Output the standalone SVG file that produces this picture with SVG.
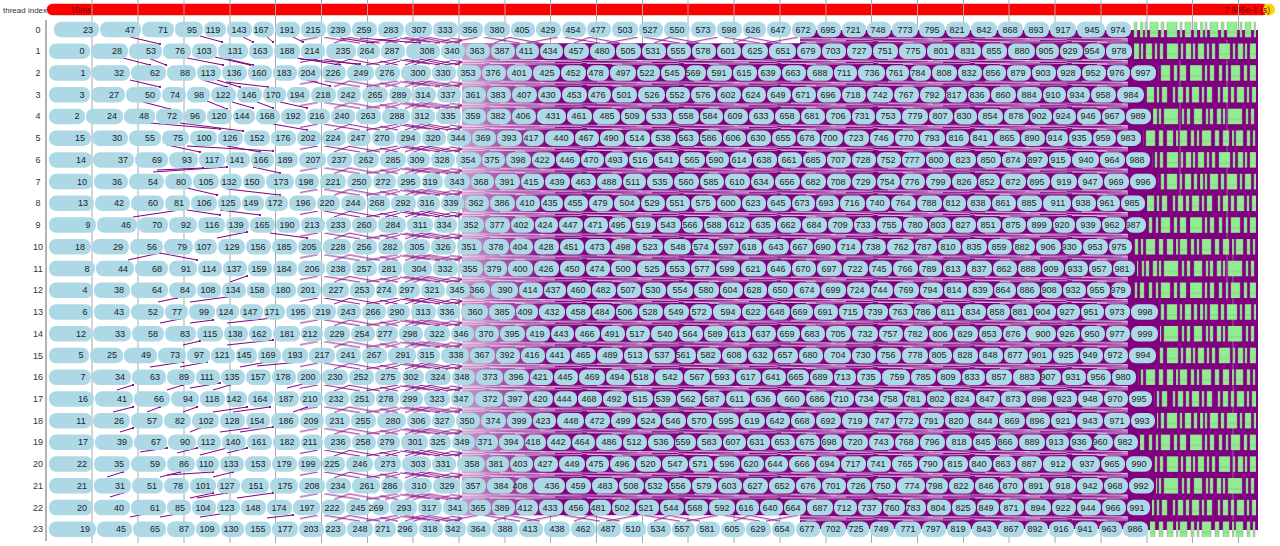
<svg xmlns="http://www.w3.org/2000/svg" width="1280" height="546" viewBox="0 0 1280 546">
<style>
.r g rect{y:-10.75px;height:15.5px;rx:7px;ry:7px;fill:#add8e6}
.r text{font:9px "Liberation Sans",Arial,sans-serif;fill:#222;text-anchor:middle}
.c path{stroke:#800080;stroke-width:1;fill:none;marker-end:url(#dot)}
.lbl{font:9px "Liberation Sans",Arial,sans-serif;fill:#333;text-anchor:middle}
.grid path{stroke:#aaa;stroke-width:1;fill:none}
.gs{fill:#90ee90;stroke:#999;stroke-width:.5}
</style>
<defs>
<marker id="dot" markerUnits="userSpaceOnUse" markerWidth="3" markerHeight="3" refX="1.5" refY="1.5"><circle cx="1.5" cy="1.5" r="1.1" fill="#800080"/></marker>
<linearGradient id="fade" x1="0" x2="1" y1="0" y2="0"><stop offset="0" stop-color="#fff" stop-opacity=".6"/><stop offset="1" stop-color="#fff" stop-opacity="0"/></linearGradient>
<pattern id="pd" patternUnits="userSpaceOnUse" x="0" y="37.25" width="97" height="21.73"><rect width="97" height="21.73" fill="#800080"/><path d="M0 1.2L97 2.6M5 4.5L70 3.4M30 5.3L97 4.4M0 3.5L40 5M55 1.8L97 0.9M15 0.6L60 1.6" stroke="#fff" stroke-width=".7" opacity=".85" fill="none"/></pattern>
<pattern id="pm" patternUnits="userSpaceOnUse" x="0" y="37.25" width="80" height="21.73"><path d="M4 0L40 6M28 0L60 6M46 6L78 0M14 6L30 0" stroke="#800080" stroke-width=".9" fill="none"/></pattern>
<pattern id="pm2" patternUnits="userSpaceOnUse" x="0" y="37.25" width="50" height="21.73"><path d="M0 1L30 5M20 0L48 6M35 6L50 2M5 6L22 0" stroke="#800080" stroke-width=".9" fill="none"/></pattern>
<pattern id="gA" patternUnits="userSpaceOnUse" width="60" height="546"><path class="gs" d="M0 0h3v546H0zM5 0h2v546H5zM10 0h8v546h-8zM21 0h3v546h-3zM27 0h10v546H27zM40 0h2v546h-2zM45 0h6v546h-6zM54 0h3v546h-3z"/></pattern>
<pattern id="gB" patternUnits="userSpaceOnUse" width="52" height="546"><path class="gs" d="M2 0h6v546H2zM11 0h2v546h-2zM16 0h3v546h-3zM23 0h11v546H23zM37 0h2v546h-2zM42 0h5v546h-5zM49 0h2v546h-2z"/></pattern>
<pattern id="gC" patternUnits="userSpaceOnUse" width="70" height="546"><path class="gs" d="M0 0h12v546H0zM15 0h2v546h-2zM20 0h4v546h-4zM29 0h3v546h-3zM36 0h2v546h-2zM41 0h9v546h-9zM54 0h3v546h-3zM60 0h6v546h-6z"/></pattern>
<pattern id="gD" patternUnits="userSpaceOnUse" width="45" height="546"><path class="gs" d="M3 0h2v546H3zM8 0h5v546H8zM16 0h3v546h-3zM22 0h7v546h-7zM32 0h2v546h-2zM37 0h5v546h-5z"/></pattern>
<pattern id="gE" patternUnits="userSpaceOnUse" width="64" height="546"><path class="gs" d="M1 0h4v546H1zM7 0h2v546H7zM12 0h14v546H12zM30 0h2v546h-2zM35 0h3v546h-3zM42 0h8v546h-8zM54 0h2v546h-2zM58 0h3v546h-3z"/></pattern>
<pattern id="gF" patternUnits="userSpaceOnUse" width="56" height="546"><path class="gs" d="M0 0h2v546H0zM4 0h7v546H4zM15 0h3v546h-3zM21 0h2v546h-2zM26 0h9v546h-9zM39 0h4v546h-4zM47 0h6v546h-6z"/></pattern>
</defs>
<rect width="1280" height="546" fill="#fff"/>
<g id="time-bar">
<rect x="47" y="4" width="1221" height="11" rx="5.5" fill="#f00" stroke="#d00" stroke-width=".5"/>
<circle cx="1269" cy="9.5" r="6" fill="#ffd400"/>
<text x="81" y="12.5" style="font:8.5px 'Liberation Sans',Arial,sans-serif;fill:#7a0000;text-anchor:middle">10ms</text>
<text x="1270" y="12.5" style="font:8.5px 'Liberation Sans',Arial,sans-serif;fill:#7a0000;text-anchor:end">2.685e-1 (s)</text>
</g>
<text x="3" y="12.5" style="font:8px 'Liberation Sans',Arial,sans-serif;fill:#333">thread index</text>
<g class="grid">
<path d="M92 0V543M138 0V543M184 0V543M230 0V543M275.5 0V543M321.5 0V543M367.5 0V543M413 0V543M459 0V543M505 0V543M550.5 0V543M596.5 0V543M642.5 0V543M688 0V543M734 0V543M780 0V543M826 0V543M871.5 0V543M917.5 0V543M963.5 0V543M1009 0V543M1055 0V543M1101 0V543M1147 0V543M1192.5 0V543M1238.5 0V543"/>
<path d="M46 20V541" style="stroke:#666"/>
</g>
<g id="connectors" class="c">
<rect x="300" y="37" width="500" height="485" fill="url(#pm)"/>
<rect x="380" y="37" width="82" height="485" fill="url(#pm2)"/>
<rect x="462" y="43.25" width="673" height="472" fill="url(#pd)"/>
<rect x="462" y="43.25" width="90" height="472" fill="url(#fade)"/>
<rect x="800" y="30" width="335" height="13.5" fill="url(#pd)"/>
<rect x="800" y="515" width="335" height="14" fill="url(#pd)"/>
<rect x="1128" y="30" width="130" height="500" fill="#800080"/>
<path d="M1227 40V300M1233 250V520M1180 60V200" style="stroke:#fff;stroke-width:.6;opacity:.6;marker-end:none"/>
<path d="M130 37L160 44"/><path d="M200 36L222 42"/><path d="M243 37L253 42"/><path d="M267 37L273 42"/><path d="M293 37L303 42"/><path d="M340 38L373 43"/><path d="M360 38L420 43"/>
<path d="M123 58L150 65"/><path d="M148 58L166 65"/><path d="M187 58L223 65"/><path d="M215 57L250 65"/><path d="M223 58L253 65"/><path d="M297 58L340 65"/><path d="M300 59L360 64"/>
<path d="M130 80L160 87"/><path d="M203 80L227 87"/><path d="M217 80L240 87"/><path d="M226 82L268 87"/><path d="M307 80L330 86"/>
<path d="M143 102L170 109"/><path d="M207 101L227 109"/><path d="M232 102L253 108"/><path d="M257 102L273 108"/><path d="M280 102L307 108"/>
<path d="M150 123L220 129"/><path d="M180 123L243 131"/><path d="M273 124L307 130"/>
<path d="M167 145L200 152"/><path d="M187 146L273 151"/><path d="M227 146L260 152"/>
<path d="M153 172L227 167"/><path d="M157 170L203 168"/><path d="M253 167L280 173"/>
<path d="M187 188L217 195"/><path d="M227 189L280 195"/>
<path d="M133 217L180 210"/><path d="M187 210L220 215"/><path d="M220 210L260 215"/>
<path d="M217 238L247 232"/><path d="M270 233L307 238"/>
<path d="M128 260L160 253"/><path d="M160 253L197 260"/>
<path d="M230 282L247 276"/>
<path d="M158 302L177 298"/><path d="M190 302L227 297"/>
<path d="M160 323L180 319"/><path d="M190 323L213 320"/><path d="M227 323L273 318"/>
<path d="M183 345L200 341"/><path d="M227 345L273 340"/>
<path d="M150 367L183 362"/><path d="M180 367L207 362"/><path d="M240 367L267 362"/><path d="M257 366L300 362"/>
<path d="M117 390L133 385"/><path d="M167 390L183 385"/><path d="M190 388L220 383"/><path d="M213 390L230 385"/><path d="M287 388L307 383"/>
<path d="M113 412L133 407"/><path d="M147 412L160 407"/><path d="M183 412L197 407"/><path d="M213 412L247 407"/><path d="M233 412L270 407"/><path d="M293 412L307 407"/>
<path d="M120 432L133 428"/><path d="M190 432L200 428"/><path d="M220 432L257 427"/><path d="M240 432L273 427"/>
<path d="M140 452L167 448"/><path d="M177 453L197 448"/><path d="M200 455L227 448"/><path d="M227 453L247 448"/>
<path d="M107 477L123 472"/><path d="M160 477L180 472"/><path d="M167 475L213 472"/><path d="M213 477L233 472"/>
<path d="M110 497L123 493"/><path d="M190 498L213 493"/><path d="M197 498L227 493"/><path d="M237 498L273 493"/>
<path d="M130 517L150 513"/><path d="M160 517L183 513"/><path d="M200 517L227 513"/><path d="M267 518L293 515"/>
</g>
<g class="r" id="thread-0" transform="translate(0,32.5)">
<g id="n23"><rect x="54" width="45"/><text x="88">23</text></g><g id="n47"><rect x="100" width="41"/><text x="130">47</text></g><g id="n71"><rect x="142" width="32"/><text x="163">71</text></g><g id="n95"><rect x="175" width="28"/><text x="192">95</text></g><g id="n119"><rect x="204" width="22"/><text x="213">119</text></g><g id="n143"><rect x="227" width="25"/><text x="239">143</text></g><g id="n167"><rect x="253" width="21"/><text x="261">167</text></g><g id="n191"><rect x="275" width="25"/><text x="287">191</text></g><g id="n215"><rect x="301" width="25"/><text x="313">215</text></g><g id="n239"><rect x="327" width="24"/><text x="338">239</text></g><g id="n259"><rect x="352" width="25"/><text x="364">259</text></g><g id="n283"><rect x="378" width="26"/><text x="391">283</text></g><g id="n307"><rect x="405" width="27"/><text x="419">307</text></g><g id="n333"><rect x="433" width="25"/><text x="445">333</text></g><g id="n356"><rect x="459" width="24"/><text x="470">356</text></g><g id="n380"><rect x="484" width="26"/><text x="497">380</text></g><g id="n405"><rect x="511" width="24"/><text x="522">405</text></g><g id="n429"><rect x="536" width="25"/><text x="548">429</text></g><g id="n454"><rect x="562" width="24"/><text x="573">454</text></g><g id="n477"><rect x="587" width="24"/><text x="598">477</text></g><g id="n503"><rect x="612" width="26"/><text x="625">503</text></g><g id="n527"><rect x="639" width="24"/><text x="650">527</text></g><g id="n550"><rect x="664" width="26"/><text x="677">550</text></g><g id="n573"><rect x="691" width="25"/><text x="703">573</text></g><g id="n598"><rect x="717" width="25"/><text x="729">598</text></g><g id="n626"><rect x="743" width="23"/><text x="753">626</text></g><g id="n647"><rect x="767" width="24"/><text x="778">647</text></g><g id="n672"><rect x="792" width="24"/><text x="803">672</text></g><g id="n695"><rect x="817" width="24"/><text x="828">695</text></g><g id="n721"><rect x="842" width="24"/><text x="853">721</text></g><g id="n748"><rect x="867" width="24"/><text x="878">748</text></g><g id="n773"><rect x="892" width="26"/><text x="905">773</text></g><g id="n795"><rect x="919" width="26"/><text x="932">795</text></g><g id="n821"><rect x="946" width="24"/><text x="957">821</text></g><g id="n842"><rect x="971" width="26"/><text x="984">842</text></g><g id="n868"><rect x="998" width="25"/><text x="1010">868</text></g><g id="n893"><rect x="1024" width="25"/><text x="1036">893</text></g><g id="n917"><rect x="1050" width="26"/><text x="1063">917</text></g><g id="n945"><rect x="1077" width="28"/><text x="1092">945</text></g><g id="n974"><rect x="1106" width="25"/><text x="1118">974</text></g>
<rect x="1133" y="-10.75" width="123" height="15.5" fill="url(#gA)"/>
</g>
<g class="r" id="thread-1" transform="translate(0,54.23)">
<g id="n0"><rect x="49" width="41"/><text x="82">0</text></g><g id="n28"><rect x="91" width="37"/><text x="117">28</text></g><g id="n53"><rect x="129" width="33"/><text x="151">53</text></g><g id="n76"><rect x="163" width="28"/><text x="180">76</text></g><g id="n103"><rect x="192" width="25"/><text x="204">103</text></g><g id="n131"><rect x="218" width="30"/><text x="235">131</text></g><g id="n163"><rect x="249" width="24"/><text x="260">163</text></g><g id="n188"><rect x="274" width="26"/><text x="287">188</text></g><g id="n214"><rect x="301" width="24"/><text x="312">214</text></g><g id="n235"><rect x="326" width="30"/><text x="343">235</text></g><g id="n264"><rect x="357" width="23"/><text x="367">264</text></g><g id="n287"><rect x="381" width="24"/><text x="392">287</text></g><g id="n308"><rect x="406" width="34"/><text x="427">308</text></g><g id="n340"><rect x="441" width="24"/><text x="452">340</text></g><g id="n363"><rect x="466" width="24"/><text x="477">363</text></g><g id="n387"><rect x="491" width="24"/><text x="502">387</text></g><g id="n411"><rect x="516" width="23"/><text x="526">411</text></g><g id="n434"><rect x="540" width="23"/><text x="550">434</text></g><g id="n457"><rect x="564" width="25"/><text x="576">457</text></g><g id="n480"><rect x="590" width="25"/><text x="602">480</text></g><g id="n505"><rect x="616" width="25"/><text x="628">505</text></g><g id="n531"><rect x="642" width="24"/><text x="653">531</text></g><g id="n555"><rect x="667" width="24"/><text x="678">555</text></g><g id="n578"><rect x="692" width="24"/><text x="703">578</text></g><g id="n601"><rect x="717" width="24"/><text x="728">601</text></g><g id="n625"><rect x="742" width="26"/><text x="755">625</text></g><g id="n651"><rect x="769" width="27"/><text x="783">651</text></g><g id="n679"><rect x="797" width="24"/><text x="808">679</text></g><g id="n703"><rect x="822" width="24"/><text x="833">703</text></g><g id="n727"><rect x="847" width="25"/><text x="859">727</text></g><g id="n751"><rect x="873" width="25"/><text x="885">751</text></g><g id="n775"><rect x="899" width="27"/><text x="913">775</text></g><g id="n801"><rect x="927" width="27"/><text x="941">801</text></g><g id="n831"><rect x="955" width="26"/><text x="968">831</text></g><g id="n855"><rect x="982" width="25"/><text x="994">855</text></g><g id="n880"><rect x="1008" width="27"/><text x="1022">880</text></g><g id="n905"><rect x="1036" width="23"/><text x="1046">905</text></g><g id="n929"><rect x="1060" width="23"/><text x="1070">929</text></g><g id="n954"><rect x="1084" width="21"/><text x="1092">954</text></g><g id="n978"><rect x="1106" width="26"/><text x="1119">978</text></g>
<rect x="1134" y="-10.75" width="122" height="15.5" fill="url(#gB)"/>
</g>
<g class="r" id="thread-2" transform="translate(0,75.96)">
<g id="n1"><rect x="49" width="42"/><text x="83">1</text></g><g id="n32"><rect x="92" width="38"/><text x="119">32</text></g><g id="n62"><rect x="131" width="35"/><text x="155">62</text></g><g id="n88"><rect x="167" width="29"/><text x="185">88</text></g><g id="n113"><rect x="197" width="24"/><text x="208">113</text></g><g id="n136"><rect x="222" width="25"/><text x="234">136</text></g><g id="n160"><rect x="248" width="24"/><text x="259">160</text></g><g id="n183"><rect x="273" width="24"/><text x="284">183</text></g><g id="n204"><rect x="298" width="23"/><text x="308">204</text></g><g id="n226"><rect x="322" width="24"/><text x="333">226</text></g><g id="n249"><rect x="347" width="27"/><text x="361">249</text></g><g id="n276"><rect x="375" width="25"/><text x="387">276</text></g><g id="n300"><rect x="401" width="30"/><text x="418">300</text></g><g id="n330"><rect x="432" width="24"/><text x="443">330</text></g><g id="n353"><rect x="457" width="24"/><text x="468">353</text></g><g id="n376"><rect x="482" width="24"/><text x="493">376</text></g><g id="n401"><rect x="507" width="25"/><text x="519">401</text></g><g id="n425"><rect x="533" width="27"/><text x="547">425</text></g><g id="n452"><rect x="561" width="25"/><text x="573">452</text></g><g id="n478"><rect x="587" width="22"/><text x="596">478</text></g><g id="n497"><rect x="610" width="26"/><text x="623">497</text></g><g id="n522"><rect x="637" width="23"/><text x="647">522</text></g><g id="n545"><rect x="661" width="24"/><text x="672">545</text></g><g id="n569"><rect x="686" width="20"/><text x="693">569</text></g><g id="n591"><rect x="707" width="25"/><text x="719">591</text></g><g id="n615"><rect x="733" width="24"/><text x="744">615</text></g><g id="n639"><rect x="758" width="23"/><text x="768">639</text></g><g id="n663"><rect x="782" width="24"/><text x="793">663</text></g><g id="n688"><rect x="807" width="26"/><text x="820">688</text></g><g id="n711"><rect x="834" width="23"/><text x="844">711</text></g><g id="n736"><rect x="858" width="27"/><text x="872">736</text></g><g id="n761"><rect x="886" width="23"/><text x="896">761</text></g><g id="n784"><rect x="910" width="21"/><text x="918">784</text></g><g id="n808"><rect x="932" width="25"/><text x="944">808</text></g><g id="n832"><rect x="958" width="24"/><text x="969">832</text></g><g id="n856"><rect x="983" width="23"/><text x="993">856</text></g><g id="n879"><rect x="1007" width="24"/><text x="1018">879</text></g><g id="n903"><rect x="1032" width="24"/><text x="1043">903</text></g><g id="n928"><rect x="1057" width="24"/><text x="1068">928</text></g><g id="n952"><rect x="1082" width="24"/><text x="1093">952</text></g><g id="n976"><rect x="1107" width="23"/><text x="1117">976</text></g><g id="n997"><rect x="1131" width="25"/><text x="1143">997</text></g>
<rect x="1158" y="-10.75" width="98" height="15.5" fill="url(#gC)"/>
</g>
<g class="r" id="thread-3" transform="translate(0,97.69)">
<g id="n3"><rect x="49" width="41"/><text x="82">3</text></g><g id="n27"><rect x="91" width="34"/><text x="114">27</text></g><g id="n50"><rect x="126" width="35"/><text x="150">50</text></g><g id="n74"><rect x="162" width="24"/><text x="175">74</text></g><g id="n98"><rect x="187" width="23"/><text x="199">98</text></g><g id="n122"><rect x="211" width="25"/><text x="223">122</text></g><g id="n146"><rect x="237" width="25"/><text x="249">146</text></g><g id="n170"><rect x="263" width="23"/><text x="273">170</text></g><g id="n194"><rect x="287" width="23"/><text x="297">194</text></g><g id="n218"><rect x="311" width="25"/><text x="323">218</text></g><g id="n242"><rect x="337" width="24"/><text x="348">242</text></g><g id="n265"><rect x="362" width="26"/><text x="375">265</text></g><g id="n289"><rect x="389" width="23"/><text x="399">289</text></g><g id="n314"><rect x="413" width="23"/><text x="423">314</text></g><g id="n337"><rect x="437" width="24"/><text x="448">337</text></g><g id="n361"><rect x="462" width="24"/><text x="473">361</text></g><g id="n383"><rect x="487" width="24"/><text x="498">383</text></g><g id="n407"><rect x="512" width="25"/><text x="524">407</text></g><g id="n430"><rect x="538" width="23"/><text x="548">430</text></g><g id="n453"><rect x="562" width="25"/><text x="574">453</text></g><g id="n476"><rect x="588" width="23"/><text x="598">476</text></g><g id="n501"><rect x="612" width="25"/><text x="624">501</text></g><g id="n526"><rect x="638" width="27"/><text x="652">526</text></g><g id="n552"><rect x="666" width="24"/><text x="677">552</text></g><g id="n576"><rect x="691" width="25"/><text x="703">576</text></g><g id="n602"><rect x="717" width="24"/><text x="728">602</text></g><g id="n624"><rect x="742" width="24"/><text x="753">624</text></g><g id="n649"><rect x="767" width="24"/><text x="778">649</text></g><g id="n671"><rect x="792" width="24"/><text x="803">671</text></g><g id="n696"><rect x="817" width="24"/><text x="828">696</text></g><g id="n718"><rect x="842" width="24"/><text x="853">718</text></g><g id="n742"><rect x="867" width="26"/><text x="880">742</text></g><g id="n767"><rect x="894" width="25"/><text x="906">767</text></g><g id="n792"><rect x="920" width="25"/><text x="932">792</text></g><g id="n817"><rect x="946" width="21"/><text x="954">817</text></g><g id="n836"><rect x="968" width="22"/><text x="977">836</text></g><g id="n860"><rect x="991" width="25"/><text x="1003">860</text></g><g id="n884"><rect x="1017" width="25"/><text x="1029">884</text></g><g id="n910"><rect x="1043" width="23"/><text x="1053">910</text></g><g id="n934"><rect x="1067" width="23"/><text x="1077">934</text></g><g id="n958"><rect x="1091" width="25"/><text x="1103">958</text></g><g id="n984"><rect x="1117" width="27"/><text x="1131">984</text></g>
<rect x="1146" y="-10.75" width="110" height="15.5" fill="url(#gD)"/>
</g>
<g class="r" id="thread-4" transform="translate(0,119.42)">
<g id="n2"><rect x="49" width="36"/><text x="77">2</text></g><g id="n24"><rect x="86" width="37"/><text x="112">24</text></g><g id="n48"><rect x="124" width="31"/><text x="144">48</text></g><g id="n72"><rect x="156" width="27"/><text x="172">72</text></g><g id="n96"><rect x="184" width="22"/><text x="195">96</text></g><g id="n120"><rect x="207" width="25"/><text x="219">120</text></g><g id="n144"><rect x="233" width="22"/><text x="242">144</text></g><g id="n168"><rect x="256" width="24"/><text x="267">168</text></g><g id="n192"><rect x="281" width="25"/><text x="293">192</text></g><g id="n216"><rect x="307" width="23"/><text x="317">216</text></g><g id="n240"><rect x="331" width="24"/><text x="342">240</text></g><g id="n263"><rect x="356" width="25"/><text x="368">263</text></g><g id="n288"><rect x="382" width="28"/><text x="397">288</text></g><g id="n312"><rect x="411" width="24"/><text x="422">312</text></g><g id="n335"><rect x="436" width="25"/><text x="448">335</text></g><g id="n359"><rect x="462" width="24"/><text x="473">359</text></g><g id="n382"><rect x="487" width="24"/><text x="498">382</text></g><g id="n406"><rect x="512" width="24"/><text x="523">406</text></g><g id="n431"><rect x="537" width="29"/><text x="553">431</text></g><g id="n461"><rect x="567" width="25"/><text x="579">461</text></g><g id="n485"><rect x="593" width="27"/><text x="607">485</text></g><g id="n509"><rect x="621" width="24"/><text x="632">509</text></g><g id="n533"><rect x="646" width="26"/><text x="659">533</text></g><g id="n558"><rect x="673" width="26"/><text x="686">558</text></g><g id="n584"><rect x="700" width="23"/><text x="710">584</text></g><g id="n609"><rect x="724" width="24"/><text x="735">609</text></g><g id="n633"><rect x="749" width="25"/><text x="761">633</text></g><g id="n658"><rect x="775" width="25"/><text x="787">658</text></g><g id="n681"><rect x="801" width="24"/><text x="812">681</text></g><g id="n706"><rect x="826" width="25"/><text x="838">706</text></g><g id="n731"><rect x="852" width="23"/><text x="862">731</text></g><g id="n753"><rect x="876" width="25"/><text x="888">753</text></g><g id="n779"><rect x="902" width="26"/><text x="915">779</text></g><g id="n807"><rect x="929" width="24"/><text x="940">807</text></g><g id="n830"><rect x="954" width="23"/><text x="964">830</text></g><g id="n854"><rect x="978" width="25"/><text x="990">854</text></g><g id="n878"><rect x="1004" width="25"/><text x="1016">878</text></g><g id="n902"><rect x="1030" width="22"/><text x="1039">902</text></g><g id="n924"><rect x="1053" width="23"/><text x="1063">924</text></g><g id="n946"><rect x="1077" width="24"/><text x="1088">946</text></g><g id="n967"><rect x="1102" width="23"/><text x="1112">967</text></g><g id="n989"><rect x="1126" width="25"/><text x="1138">989</text></g>
<rect x="1153" y="-10.75" width="103" height="15.5" fill="url(#gE)"/>
</g>
<g class="r" id="thread-5" transform="translate(0,141.15)">
<g id="n15"><rect x="49" width="42"/><text x="80">15</text></g><g id="n30"><rect x="92" width="36"/><text x="117">30</text></g><g id="n55"><rect x="129" width="32"/><text x="150">55</text></g><g id="n75"><rect x="162" width="27"/><text x="178">75</text></g><g id="n100"><rect x="190" width="27"/><text x="204">100</text></g><g id="n126"><rect x="218" width="25"/><text x="230">126</text></g><g id="n152"><rect x="244" width="26"/><text x="257">152</text></g><g id="n176"><rect x="271" width="25"/><text x="283">176</text></g><g id="n202"><rect x="297" width="24"/><text x="308">202</text></g><g id="n224"><rect x="322" width="24"/><text x="333">224</text></g><g id="n247"><rect x="347" width="24"/><text x="358">247</text></g><g id="n270"><rect x="372" width="23"/><text x="382">270</text></g><g id="n294"><rect x="396" width="25"/><text x="408">294</text></g><g id="n320"><rect x="422" width="24"/><text x="433">320</text></g><g id="n344"><rect x="447" width="24"/><text x="458">344</text></g><g id="n369"><rect x="472" width="24"/><text x="483">369</text></g><g id="n393"><rect x="497" width="25"/><text x="509">393</text></g><g id="n417"><rect x="523" width="21"/><text x="531">417</text></g><g id="n440"><rect x="545" width="29"/><text x="561">440</text></g><g id="n467"><rect x="575" width="24"/><text x="586">467</text></g><g id="n490"><rect x="600" width="24"/><text x="611">490</text></g><g id="n514"><rect x="625" width="25"/><text x="637">514</text></g><g id="n538"><rect x="651" width="25"/><text x="663">538</text></g><g id="n563"><rect x="677" width="22"/><text x="686">563</text></g><g id="n586"><rect x="700" width="22"/><text x="709">586</text></g><g id="n606"><rect x="723" width="23"/><text x="733">606</text></g><g id="n630"><rect x="747" width="24"/><text x="758">630</text></g><g id="n655"><rect x="772" width="24"/><text x="783">655</text></g><g id="n678"><rect x="797" width="23"/><text x="807">678</text></g><g id="n700"><rect x="821" width="22"/><text x="830">700</text></g><g id="n723"><rect x="844" width="25"/><text x="856">723</text></g><g id="n746"><rect x="870" width="24"/><text x="881">746</text></g><g id="n770"><rect x="895" width="24"/><text x="906">770</text></g><g id="n793"><rect x="920" width="25"/><text x="932">793</text></g><g id="n816"><rect x="946" width="23"/><text x="956">816</text></g><g id="n841"><rect x="970" width="23"/><text x="980">841</text></g><g id="n865"><rect x="994" width="26"/><text x="1007">865</text></g><g id="n890"><rect x="1021" width="24"/><text x="1032">890</text></g><g id="n914"><rect x="1046" width="22"/><text x="1055">914</text></g><g id="n935"><rect x="1069" width="23"/><text x="1079">935</text></g><g id="n959"><rect x="1093" width="23"/><text x="1103">959</text></g><g id="n983"><rect x="1117" width="24"/><text x="1128">983</text></g>
<rect x="1143" y="-10.75" width="113" height="15.5" fill="url(#gF)"/>
</g>
<g class="r" id="thread-6" transform="translate(0,162.88)">
<g id="n14"><rect x="49" width="43"/><text x="81">14</text></g><g id="n37"><rect x="93" width="41"/><text x="123">37</text></g><g id="n69"><rect x="135" width="33"/><text x="157">69</text></g><g id="n93"><rect x="169" width="29"/><text x="187">93</text></g><g id="n117"><rect x="199" width="26"/><text x="212">117</text></g><g id="n141"><rect x="226" width="24"/><text x="237">141</text></g><g id="n166"><rect x="251" width="23"/><text x="261">166</text></g><g id="n189"><rect x="275" width="23"/><text x="285">189</text></g><g id="n207"><rect x="299" width="27"/><text x="313">207</text></g><g id="n237"><rect x="327" width="25"/><text x="339">237</text></g><g id="n262"><rect x="353" width="26"/><text x="366">262</text></g><g id="n285"><rect x="380" width="26"/><text x="393">285</text></g><g id="n309"><rect x="407" width="23"/><text x="417">309</text></g><g id="n328"><rect x="431" width="24"/><text x="442">328</text></g><g id="n354"><rect x="456" width="25"/><text x="468">354</text></g><g id="n375"><rect x="482" width="23"/><text x="492">375</text></g><g id="n398"><rect x="506" width="25"/><text x="518">398</text></g><g id="n422"><rect x="532" width="23"/><text x="542">422</text></g><g id="n446"><rect x="556" width="24"/><text x="567">446</text></g><g id="n470"><rect x="581" width="23"/><text x="591">470</text></g><g id="n493"><rect x="605" width="23"/><text x="615">493</text></g><g id="n516"><rect x="629" width="24"/><text x="640">516</text></g><g id="n541"><rect x="654" width="25"/><text x="666">541</text></g><g id="n565"><rect x="680" width="25"/><text x="692">565</text></g><g id="n590"><rect x="706" width="23"/><text x="716">590</text></g><g id="n614"><rect x="730" width="22"/><text x="739">614</text></g><g id="n638"><rect x="753" width="24"/><text x="764">638</text></g><g id="n661"><rect x="778" width="24"/><text x="789">661</text></g><g id="n685"><rect x="803" width="23"/><text x="813">685</text></g><g id="n707"><rect x="827" width="24"/><text x="838">707</text></g><g id="n728"><rect x="852" width="24"/><text x="863">728</text></g><g id="n752"><rect x="877" width="24"/><text x="888">752</text></g><g id="n777"><rect x="902" width="23"/><text x="912">777</text></g><g id="n800"><rect x="926" width="23"/><text x="936">800</text></g><g id="n823"><rect x="950" width="26"/><text x="963">823</text></g><g id="n850"><rect x="977" width="24"/><text x="988">850</text></g><g id="n874"><rect x="1002" width="24"/><text x="1013">874</text></g><g id="n897"><rect x="1027" width="21"/><text x="1035">897</text></g><g id="n915"><rect x="1049" width="22"/><text x="1058">915</text></g><g id="n940"><rect x="1072" width="27"/><text x="1086">940</text></g><g id="n964"><rect x="1100" width="25"/><text x="1112">964</text></g><g id="n988"><rect x="1126" width="24"/><text x="1137">988</text></g>
<rect x="1152" y="-10.75" width="104" height="15.5" fill="url(#gB)"/>
</g>
<g class="r" id="thread-7" transform="translate(0,184.61)">
<g id="n10"><rect x="49" width="44"/><text x="82">10</text></g><g id="n36"><rect x="94" width="34"/><text x="117">36</text></g><g id="n54"><rect x="129" width="35"/><text x="153">54</text></g><g id="n80"><rect x="165" width="27"/><text x="181">80</text></g><g id="n105"><rect x="193" width="26"/><text x="206">105</text></g><g id="n132"><rect x="220" width="22"/><text x="229">132</text></g><g id="n150"><rect x="243" width="22"/><text x="252">150</text></g><g id="n173"><rect x="266" width="28"/><text x="281">173</text></g><g id="n198"><rect x="295" width="24"/><text x="306">198</text></g><g id="n221"><rect x="320" width="26"/><text x="333">221</text></g><g id="n250"><rect x="347" width="25"/><text x="359">250</text></g><g id="n272"><rect x="373" width="23"/><text x="383">272</text></g><g id="n295"><rect x="397" width="24"/><text x="408">295</text></g><g id="n319"><rect x="422" width="21"/><text x="430">319</text></g><g id="n343"><rect x="444" width="26"/><text x="457">343</text></g><g id="n368"><rect x="471" width="23"/><text x="481">368</text></g><g id="n391"><rect x="495" width="25"/><text x="507">391</text></g><g id="n415"><rect x="521" width="23"/><text x="531">415</text></g><g id="n439"><rect x="545" width="25"/><text x="557">439</text></g><g id="n463"><rect x="571" width="25"/><text x="583">463</text></g><g id="n488"><rect x="597" width="25"/><text x="609">488</text></g><g id="n511"><rect x="623" width="23"/><text x="633">511</text></g><g id="n535"><rect x="647" width="26"/><text x="660">535</text></g><g id="n560"><rect x="674" width="25"/><text x="686">560</text></g><g id="n585"><rect x="700" width="24"/><text x="711">585</text></g><g id="n610"><rect x="725" width="25"/><text x="737">610</text></g><g id="n634"><rect x="751" width="23"/><text x="761">634</text></g><g id="n656"><rect x="775" width="25"/><text x="787">656</text></g><g id="n682"><rect x="801" width="25"/><text x="813">682</text></g><g id="n708"><rect x="827" width="24"/><text x="838">708</text></g><g id="n729"><rect x="852" width="24"/><text x="863">729</text></g><g id="n754"><rect x="877" width="23"/><text x="887">754</text></g><g id="n776"><rect x="901" width="24"/><text x="912">776</text></g><g id="n799"><rect x="926" width="25"/><text x="938">799</text></g><g id="n826"><rect x="952" width="25"/><text x="964">826</text></g><g id="n852"><rect x="978" width="22"/><text x="987">852</text></g><g id="n872"><rect x="1001" width="25"/><text x="1013">872</text></g><g id="n895"><rect x="1027" width="23"/><text x="1037">895</text></g><g id="n919"><rect x="1051" width="26"/><text x="1064">919</text></g><g id="n947"><rect x="1078" width="25"/><text x="1090">947</text></g><g id="n969"><rect x="1104" width="25"/><text x="1116">969</text></g><g id="n996"><rect x="1130" width="26"/><text x="1143">996</text></g>
<rect x="1158" y="-10.75" width="98" height="15.5" fill="url(#gA)"/>
</g>
<g class="r" id="thread-8" transform="translate(0,206.34)">
<g id="n13"><rect x="49" width="45"/><text x="83">13</text></g><g id="n42"><rect x="95" width="35"/><text x="119">42</text></g><g id="n60"><rect x="131" width="33"/><text x="153">60</text></g><g id="n81"><rect x="165" width="25"/><text x="179">81</text></g><g id="n106"><rect x="191" width="26"/><text x="204">106</text></g><g id="n125"><rect x="218" width="23"/><text x="228">125</text></g><g id="n149"><rect x="242" width="22"/><text x="251">149</text></g><g id="n172"><rect x="265" width="23"/><text x="275">172</text></g><g id="n196"><rect x="289" width="27"/><text x="303">196</text></g><g id="n220"><rect x="317" width="23"/><text x="327">220</text></g><g id="n244"><rect x="341" width="25"/><text x="353">244</text></g><g id="n268"><rect x="367" width="23"/><text x="377">268</text></g><g id="n292"><rect x="391" width="25"/><text x="403">292</text></g><g id="n316"><rect x="417" width="23"/><text x="427">316</text></g><g id="n339"><rect x="441" width="23"/><text x="451">339</text></g><g id="n362"><rect x="465" width="24"/><text x="476">362</text></g><g id="n386"><rect x="490" width="25"/><text x="502">386</text></g><g id="n410"><rect x="516" width="24"/><text x="527">410</text></g><g id="n435"><rect x="541" width="22"/><text x="550">435</text></g><g id="n455"><rect x="564" width="24"/><text x="575">455</text></g><g id="n479"><rect x="589" width="24"/><text x="600">479</text></g><g id="n504"><rect x="614" width="26"/><text x="627">504</text></g><g id="n529"><rect x="641" width="24"/><text x="652">529</text></g><g id="n551"><rect x="666" width="24"/><text x="677">551</text></g><g id="n575"><rect x="691" width="25"/><text x="703">575</text></g><g id="n600"><rect x="717" width="24"/><text x="728">600</text></g><g id="n623"><rect x="742" width="24"/><text x="753">623</text></g><g id="n645"><rect x="767" width="24"/><text x="778">645</text></g><g id="n673"><rect x="792" width="23"/><text x="802">673</text></g><g id="n693"><rect x="816" width="23"/><text x="826">693</text></g><g id="n716"><rect x="840" width="25"/><text x="852">716</text></g><g id="n740"><rect x="866" width="24"/><text x="877">740</text></g><g id="n764"><rect x="891" width="25"/><text x="903">764</text></g><g id="n788"><rect x="917" width="25"/><text x="929">788</text></g><g id="n812"><rect x="943" width="23"/><text x="953">812</text></g><g id="n838"><rect x="967" width="24"/><text x="978">838</text></g><g id="n861"><rect x="992" width="24"/><text x="1003">861</text></g><g id="n885"><rect x="1017" width="25"/><text x="1029">885</text></g><g id="n911"><rect x="1043" width="28"/><text x="1058">911</text></g><g id="n938"><rect x="1072" width="24"/><text x="1083">938</text></g><g id="n961"><rect x="1097" width="23"/><text x="1107">961</text></g><g id="n985"><rect x="1121" width="24"/><text x="1132">985</text></g>
<rect x="1147" y="-10.75" width="109" height="15.5" fill="url(#gD)"/>
</g>
<g class="r" id="thread-9" transform="translate(0,228.07)">
<g id="n9"><rect x="49" width="47"/><text x="88">9</text></g><g id="n46"><rect x="97" width="40"/><text x="126">46</text></g><g id="n70"><rect x="138" width="30"/><text x="157">70</text></g><g id="n92"><rect x="169" width="28"/><text x="186">92</text></g><g id="n116"><rect x="198" width="27"/><text x="212">116</text></g><g id="n139"><rect x="226" width="23"/><text x="236">139</text></g><g id="n165"><rect x="250" width="25"/><text x="262">165</text></g><g id="n190"><rect x="276" width="24"/><text x="287">190</text></g><g id="n213"><rect x="301" width="24"/><text x="312">213</text></g><g id="n233"><rect x="326" width="25"/><text x="338">233</text></g><g id="n260"><rect x="352" width="25"/><text x="364">260</text></g><g id="n284"><rect x="378" width="28"/><text x="393">284</text></g><g id="n311"><rect x="407" width="26"/><text x="420">311</text></g><g id="n334"><rect x="434" width="23"/><text x="444">334</text></g><g id="n352"><rect x="458" width="26"/><text x="471">352</text></g><g id="n377"><rect x="485" width="25"/><text x="497">377</text></g><g id="n402"><rect x="511" width="23"/><text x="521">402</text></g><g id="n424"><rect x="535" width="23"/><text x="545">424</text></g><g id="n447"><rect x="559" width="24"/><text x="570">447</text></g><g id="n471"><rect x="584" width="24"/><text x="595">471</text></g><g id="n495"><rect x="609" width="22"/><text x="618">495</text></g><g id="n519"><rect x="632" width="24"/><text x="643">519</text></g><g id="n543"><rect x="657" width="24"/><text x="668">543</text></g><g id="n566"><rect x="682" width="21"/><text x="690">566</text></g><g id="n588"><rect x="704" width="23"/><text x="714">588</text></g><g id="n612"><rect x="728" width="22"/><text x="737">612</text></g><g id="n635"><rect x="751" width="25"/><text x="763">635</text></g><g id="n662"><rect x="777" width="24"/><text x="788">662</text></g><g id="n684"><rect x="802" width="25"/><text x="814">684</text></g><g id="n709"><rect x="828" width="25"/><text x="840">709</text></g><g id="n733"><rect x="854" width="22"/><text x="863">733</text></g><g id="n755"><rect x="877" width="25"/><text x="889">755</text></g><g id="n780"><rect x="903" width="25"/><text x="915">780</text></g><g id="n803"><rect x="929" width="22"/><text x="938">803</text></g><g id="n827"><rect x="952" width="24"/><text x="963">827</text></g><g id="n851"><rect x="977" width="24"/><text x="988">851</text></g><g id="n875"><rect x="1002" width="24"/><text x="1013">875</text></g><g id="n899"><rect x="1027" width="25"/><text x="1039">899</text></g><g id="n920"><rect x="1053" width="22"/><text x="1062">920</text></g><g id="n939"><rect x="1076" width="25"/><text x="1088">939</text></g><g id="n962"><rect x="1102" width="23"/><text x="1112">962</text></g><g id="n987"><rect x="1126" width="20"/><text x="1133">987</text></g>
<rect x="1148" y="-10.75" width="108" height="15.5" fill="url(#gC)"/>
</g>
<g class="r" id="thread-10" transform="translate(0,249.8)">
<g id="n18"><rect x="49" width="42"/><text x="80">18</text></g><g id="n29"><rect x="92" width="37"/><text x="118">29</text></g><g id="n56"><rect x="130" width="33"/><text x="152">56</text></g><g id="n79"><rect x="164" width="29"/><text x="182">79</text></g><g id="n107"><rect x="194" width="23"/><text x="204">107</text></g><g id="n129"><rect x="218" width="27"/><text x="232">129</text></g><g id="n156"><rect x="246" width="25"/><text x="258">156</text></g><g id="n185"><rect x="272" width="25"/><text x="284">185</text></g><g id="n205"><rect x="298" width="24"/><text x="309">205</text></g><g id="n228"><rect x="323" width="28"/><text x="338">228</text></g><g id="n256"><rect x="352" width="25"/><text x="364">256</text></g><g id="n282"><rect x="378" width="25"/><text x="390">282</text></g><g id="n305"><rect x="404" width="26"/><text x="417">305</text></g><g id="n326"><rect x="431" width="25"/><text x="443">326</text></g><g id="n351"><rect x="457" width="25"/><text x="469">351</text></g><g id="n378"><rect x="483" width="26"/><text x="496">378</text></g><g id="n404"><rect x="510" width="23"/><text x="520">404</text></g><g id="n428"><rect x="534" width="25"/><text x="546">428</text></g><g id="n451"><rect x="560" width="24"/><text x="571">451</text></g><g id="n473"><rect x="585" width="25"/><text x="597">473</text></g><g id="n498"><rect x="611" width="25"/><text x="623">498</text></g><g id="n523"><rect x="637" width="26"/><text x="650">523</text></g><g id="n548"><rect x="664" width="27"/><text x="678">548</text></g><g id="n574"><rect x="692" width="22"/><text x="701">574</text></g><g id="n597"><rect x="715" width="24"/><text x="726">597</text></g><g id="n618"><rect x="740" width="22"/><text x="749">618</text></g><g id="n643"><rect x="763" width="26"/><text x="776">643</text></g><g id="n667"><rect x="790" width="23"/><text x="800">667</text></g><g id="n690"><rect x="814" width="22"/><text x="823">690</text></g><g id="n714"><rect x="837" width="24"/><text x="848">714</text></g><g id="n738"><rect x="862" width="24"/><text x="873">738</text></g><g id="n762"><rect x="887" width="27"/><text x="901">762</text></g><g id="n787"><rect x="915" width="22"/><text x="924">787</text></g><g id="n810"><rect x="938" width="23"/><text x="948">810</text></g><g id="n835"><rect x="962" width="25"/><text x="974">835</text></g><g id="n859"><rect x="988" width="24"/><text x="999">859</text></g><g id="n882"><rect x="1013" width="22"/><text x="1022">882</text></g><g id="n906"><rect x="1036" width="25"/><text x="1048">906</text></g><g id="n930"><rect x="1062" width="20"/><text x="1069">930</text></g><g id="n953"><rect x="1083" width="25"/><text x="1095">953</text></g><g id="n975"><rect x="1109" width="23"/><text x="1119">975</text></g>
<rect x="1134" y="-10.75" width="122" height="15.5" fill="url(#gF)"/>
</g>
<g class="r" id="thread-11" transform="translate(0,271.53)">
<g id="n8"><rect x="49" width="46"/><text x="87">8</text></g><g id="n44"><rect x="96" width="38"/><text x="123">44</text></g><g id="n68"><rect x="135" width="33"/><text x="157">68</text></g><g id="n91"><rect x="169" width="28"/><text x="186">91</text></g><g id="n114"><rect x="198" width="24"/><text x="209">114</text></g><g id="n137"><rect x="223" width="24"/><text x="234">137</text></g><g id="n159"><rect x="248" width="24"/><text x="259">159</text></g><g id="n184"><rect x="273" width="24"/><text x="284">184</text></g><g id="n206"><rect x="298" width="27"/><text x="312">206</text></g><g id="n238"><rect x="326" width="25"/><text x="338">238</text></g><g id="n257"><rect x="352" width="25"/><text x="364">257</text></g><g id="n281"><rect x="378" width="24"/><text x="389">281</text></g><g id="n304"><rect x="403" width="29"/><text x="419">304</text></g><g id="n332"><rect x="433" width="25"/><text x="445">332</text></g><g id="n355"><rect x="459" width="24"/><text x="470">355</text></g><g id="n379"><rect x="484" width="23"/><text x="494">379</text></g><g id="n400"><rect x="508" width="25"/><text x="520">400</text></g><g id="n426"><rect x="534" width="25"/><text x="546">426</text></g><g id="n450"><rect x="560" width="25"/><text x="572">450</text></g><g id="n474"><rect x="586" width="24"/><text x="597">474</text></g><g id="n500"><rect x="611" width="25"/><text x="623">500</text></g><g id="n525"><rect x="637" width="28"/><text x="652">525</text></g><g id="n553"><rect x="666" width="24"/><text x="677">553</text></g><g id="n577"><rect x="691" width="24"/><text x="702">577</text></g><g id="n599"><rect x="716" width="24"/><text x="727">599</text></g><g id="n621"><rect x="741" width="25"/><text x="753">621</text></g><g id="n646"><rect x="767" width="24"/><text x="778">646</text></g><g id="n670"><rect x="792" width="24"/><text x="803">670</text></g><g id="n697"><rect x="817" width="25"/><text x="829">697</text></g><g id="n722"><rect x="843" width="25"/><text x="855">722</text></g><g id="n745"><rect x="869" width="23"/><text x="879">745</text></g><g id="n766"><rect x="893" width="25"/><text x="905">766</text></g><g id="n789"><rect x="919" width="23"/><text x="929">789</text></g><g id="n813"><rect x="943" width="23"/><text x="953">813</text></g><g id="n837"><rect x="967" width="25"/><text x="979">837</text></g><g id="n862"><rect x="993" width="24"/><text x="1004">862</text></g><g id="n888"><rect x="1018" width="23"/><text x="1028">888</text></g><g id="n909"><rect x="1042" width="22"/><text x="1051">909</text></g><g id="n933"><rect x="1065" width="23"/><text x="1075">933</text></g><g id="n957"><rect x="1089" width="23"/><text x="1099">957</text></g><g id="n981"><rect x="1113" width="22"/><text x="1122">981</text></g>
<rect x="1137" y="-10.75" width="119" height="15.5" fill="url(#gE)"/>
</g>
<g class="r" id="thread-12" transform="translate(0,293.26)">
<g id="n4"><rect x="49" width="44"/><text x="85">4</text></g><g id="n38"><rect x="94" width="36"/><text x="119">38</text></g><g id="n64"><rect x="131" width="37"/><text x="157">64</text></g><g id="n84"><rect x="169" width="27"/><text x="185">84</text></g><g id="n108"><rect x="197" width="24"/><text x="208">108</text></g><g id="n134"><rect x="222" width="24"/><text x="233">134</text></g><g id="n158"><rect x="247" width="23"/><text x="257">158</text></g><g id="n180"><rect x="271" width="25"/><text x="283">180</text></g><g id="n201"><rect x="297" width="24"/><text x="308">201</text></g><g id="n227"><rect x="322" width="27"/><text x="336">227</text></g><g id="n253"><rect x="350" width="25"/><text x="362">253</text></g><g id="n274"><rect x="376" width="21"/><text x="384">274</text></g><g id="n297"><rect x="398" width="22"/><text x="407">297</text></g><g id="n321"><rect x="421" width="24"/><text x="432">321</text></g><g id="n345"><rect x="446" width="24"/><text x="457">345</text></g><g id="n366"><rect x="471" width="19"/><text x="477">366</text></g><g id="n390"><rect x="491" width="27"/><text x="505">390</text></g><g id="n414"><rect x="519" width="24"/><text x="530">414</text></g><g id="n437"><rect x="544" width="22"/><text x="553">437</text></g><g id="n460"><rect x="567" width="24"/><text x="578">460</text></g><g id="n482"><rect x="592" width="24"/><text x="603">482</text></g><g id="n507"><rect x="617" width="24"/><text x="628">507</text></g><g id="n530"><rect x="642" width="24"/><text x="653">530</text></g><g id="n554"><rect x="667" width="26"/><text x="680">554</text></g><g id="n580"><rect x="694" width="25"/><text x="706">580</text></g><g id="n604"><rect x="720" width="23"/><text x="730">604</text></g><g id="n628"><rect x="744" width="23"/><text x="754">628</text></g><g id="n650"><rect x="768" width="25"/><text x="780">650</text></g><g id="n674"><rect x="794" width="26"/><text x="807">674</text></g><g id="n699"><rect x="821" width="25"/><text x="833">699</text></g><g id="n724"><rect x="847" width="23"/><text x="857">724</text></g><g id="n744"><rect x="871" width="22"/><text x="880">744</text></g><g id="n769"><rect x="894" width="25"/><text x="906">769</text></g><g id="n794"><rect x="920" width="23"/><text x="930">794</text></g><g id="n814"><rect x="944" width="23"/><text x="954">814</text></g><g id="n839"><rect x="968" width="25"/><text x="980">839</text></g><g id="n864"><rect x="994" width="22"/><text x="1003">864</text></g><g id="n886"><rect x="1017" width="23"/><text x="1027">886</text></g><g id="n908"><rect x="1041" width="21"/><text x="1049">908</text></g><g id="n932"><rect x="1063" width="23"/><text x="1073">932</text></g><g id="n955"><rect x="1087" width="23"/><text x="1097">955</text></g><g id="n979"><rect x="1111" width="20"/><text x="1118">979</text></g>
<rect x="1133" y="-10.75" width="123" height="15.5" fill="url(#gC)"/>
</g>
<g class="r" id="thread-13" transform="translate(0,314.99)">
<g id="n6"><rect x="49" width="44"/><text x="85">6</text></g><g id="n43"><rect x="94" width="36"/><text x="119">43</text></g><g id="n52"><rect x="131" width="33"/><text x="153">52</text></g><g id="n77"><rect x="165" width="23"/><text x="177">77</text></g><g id="n99"><rect x="189" width="26"/><text x="204">99</text></g><g id="n124"><rect x="216" width="23"/><text x="226">124</text></g><g id="n147"><rect x="240" width="23"/><text x="250">147</text></g><g id="n171"><rect x="264" width="21"/><text x="272">171</text></g><g id="n195"><rect x="286" width="25"/><text x="298">195</text></g><g id="n219"><rect x="312" width="24"/><text x="323">219</text></g><g id="n243"><rect x="337" width="24"/><text x="348">243</text></g><g id="n266"><rect x="362" width="24"/><text x="373">266</text></g><g id="n290"><rect x="387" width="23"/><text x="397">290</text></g><g id="n313"><rect x="411" width="25"/><text x="423">313</text></g><g id="n336"><rect x="437" width="23"/><text x="447">336</text></g><g id="n360"><rect x="461" width="27"/><text x="475">360</text></g><g id="n385"><rect x="489" width="26"/><text x="502">385</text></g><g id="n409"><rect x="516" width="22"/><text x="525">409</text></g><g id="n432"><rect x="539" width="26"/><text x="552">432</text></g><g id="n458"><rect x="566" width="25"/><text x="578">458</text></g><g id="n484"><rect x="592" width="23"/><text x="602">484</text></g><g id="n506"><rect x="616" width="22"/><text x="625">506</text></g><g id="n528"><rect x="639" width="24"/><text x="650">528</text></g><g id="n549"><rect x="664" width="25"/><text x="676">549</text></g><g id="n572"><rect x="690" width="22"/><text x="699">572</text></g><g id="n594"><rect x="713" width="28"/><text x="728">594</text></g><g id="n622"><rect x="742" width="24"/><text x="753">622</text></g><g id="n648"><rect x="767" width="23"/><text x="777">648</text></g><g id="n669"><rect x="791" width="22"/><text x="800">669</text></g><g id="n691"><rect x="814" width="24"/><text x="825">691</text></g><g id="n715"><rect x="839" width="24"/><text x="850">715</text></g><g id="n739"><rect x="864" width="24"/><text x="875">739</text></g><g id="n763"><rect x="889" width="24"/><text x="900">763</text></g><g id="n786"><rect x="914" width="22"/><text x="923">786</text></g><g id="n811"><rect x="937" width="24"/><text x="948">811</text></g><g id="n834"><rect x="962" width="24"/><text x="973">834</text></g><g id="n858"><rect x="987" width="23"/><text x="997">858</text></g><g id="n881"><rect x="1011" width="22"/><text x="1020">881</text></g><g id="n904"><rect x="1034" width="22"/><text x="1043">904</text></g><g id="n927"><rect x="1057" width="23"/><text x="1067">927</text></g><g id="n951"><rect x="1081" width="23"/><text x="1091">951</text></g><g id="n973"><rect x="1105" width="25"/><text x="1117">973</text></g><g id="n998"><rect x="1131" width="27"/><text x="1145">998</text></g>
<rect x="1160" y="-10.75" width="96" height="15.5" fill="url(#gA)"/>
</g>
<g class="r" id="thread-14" transform="translate(0,336.72)">
<g id="n12"><rect x="49" width="43"/><text x="81">12</text></g><g id="n33"><rect x="93" width="38"/><text x="120">33</text></g><g id="n58"><rect x="132" width="32"/><text x="153">58</text></g><g id="n83"><rect x="165" width="31"/><text x="185">83</text></g><g id="n115"><rect x="197" width="26"/><text x="210">115</text></g><g id="n138"><rect x="224" width="24"/><text x="235">138</text></g><g id="n162"><rect x="249" width="23"/><text x="259">162</text></g><g id="n181"><rect x="273" width="27"/><text x="287">181</text></g><g id="n212"><rect x="301" width="22"/><text x="310">212</text></g><g id="n229"><rect x="324" width="26"/><text x="337">229</text></g><g id="n254"><rect x="351" width="24"/><text x="362">254</text></g><g id="n277"><rect x="376" width="22"/><text x="385">277</text></g><g id="n298"><rect x="399" width="24"/><text x="410">298</text></g><g id="n322"><rect x="424" width="26"/><text x="437">322</text></g><g id="n346"><rect x="451" width="23"/><text x="461">346</text></g><g id="n370"><rect x="475" width="24"/><text x="486">370</text></g><g id="n395"><rect x="500" width="25"/><text x="512">395</text></g><g id="n419"><rect x="526" width="24"/><text x="537">419</text></g><g id="n443"><rect x="551" width="23"/><text x="561">443</text></g><g id="n466"><rect x="575" width="25"/><text x="587">466</text></g><g id="n491"><rect x="601" width="24"/><text x="612">491</text></g><g id="n517"><rect x="626" width="24"/><text x="637">517</text></g><g id="n540"><rect x="651" width="27"/><text x="665">540</text></g><g id="n564"><rect x="679" width="24"/><text x="690">564</text></g><g id="n589"><rect x="704" width="24"/><text x="715">589</text></g><g id="n613"><rect x="729" width="22"/><text x="738">613</text></g><g id="n637"><rect x="752" width="24"/><text x="763">637</text></g><g id="n659"><rect x="777" width="23"/><text x="787">659</text></g><g id="n683"><rect x="801" width="24"/><text x="812">683</text></g><g id="n705"><rect x="826" width="25"/><text x="838">705</text></g><g id="n732"><rect x="852" width="26"/><text x="865">732</text></g><g id="n757"><rect x="879" width="24"/><text x="890">757</text></g><g id="n782"><rect x="904" width="24"/><text x="915">782</text></g><g id="n806"><rect x="929" width="24"/><text x="940">806</text></g><g id="n829"><rect x="954" width="24"/><text x="965">829</text></g><g id="n853"><rect x="979" width="23"/><text x="989">853</text></g><g id="n876"><rect x="1003" width="23"/><text x="1013">876</text></g><g id="n900"><rect x="1027" width="29"/><text x="1043">900</text></g><g id="n926"><rect x="1057" width="23"/><text x="1067">926</text></g><g id="n950"><rect x="1081" width="24"/><text x="1092">950</text></g><g id="n977"><rect x="1106" width="24"/><text x="1117">977</text></g><g id="n999"><rect x="1131" width="27"/><text x="1145">999</text></g>
<rect x="1160" y="-10.75" width="96" height="15.5" fill="url(#gE)"/>
</g>
<g class="r" id="thread-15" transform="translate(0,358.45)">
<g id="n5"><rect x="49" width="40"/><text x="81">5</text></g><g id="n25"><rect x="90" width="33"/><text x="112">25</text></g><g id="n49"><rect x="124" width="33"/><text x="146">49</text></g><g id="n73"><rect x="158" width="28"/><text x="175">73</text></g><g id="n97"><rect x="187" width="23"/><text x="199">97</text></g><g id="n121"><rect x="211" width="24"/><text x="222">121</text></g><g id="n145"><rect x="236" width="21"/><text x="244">145</text></g><g id="n169"><rect x="258" width="23"/><text x="268">169</text></g><g id="n193"><rect x="282" width="26"/><text x="295">193</text></g><g id="n217"><rect x="309" width="26"/><text x="322">217</text></g><g id="n241"><rect x="336" width="25"/><text x="348">241</text></g><g id="n267"><rect x="362" width="25"/><text x="374">267</text></g><g id="n291"><rect x="388" width="28"/><text x="403">291</text></g><g id="n315"><rect x="417" width="23"/><text x="427">315</text></g><g id="n338"><rect x="441" width="28"/><text x="456">338</text></g><g id="n367"><rect x="470" width="25"/><text x="482">367</text></g><g id="n392"><rect x="496" width="24"/><text x="507">392</text></g><g id="n416"><rect x="521" width="24"/><text x="532">416</text></g><g id="n441"><rect x="546" width="24"/><text x="557">441</text></g><g id="n465"><rect x="571" width="25"/><text x="583">465</text></g><g id="n489"><rect x="597" width="26"/><text x="610">489</text></g><g id="n513"><rect x="624" width="24"/><text x="635">513</text></g><g id="n537"><rect x="649" width="26"/><text x="662">537</text></g><g id="n561"><rect x="676" width="20"/><text x="683">561</text></g><g id="n582"><rect x="697" width="24"/><text x="708">582</text></g><g id="n608"><rect x="722" width="25"/><text x="734">608</text></g><g id="n632"><rect x="748" width="25"/><text x="760">632</text></g><g id="n657"><rect x="774" width="24"/><text x="785">657</text></g><g id="n680"><rect x="799" width="24"/><text x="810">680</text></g><g id="n704"><rect x="824" width="27"/><text x="838">704</text></g><g id="n730"><rect x="852" width="24"/><text x="863">730</text></g><g id="n756"><rect x="877" width="24"/><text x="888">756</text></g><g id="n778"><rect x="902" width="26"/><text x="915">778</text></g><g id="n805"><rect x="929" width="23"/><text x="939">805</text></g><g id="n828"><rect x="953" width="25"/><text x="965">828</text></g><g id="n848"><rect x="979" width="24"/><text x="990">848</text></g><g id="n877"><rect x="1004" width="24"/><text x="1015">877</text></g><g id="n901"><rect x="1029" width="23"/><text x="1039">901</text></g><g id="n925"><rect x="1053" width="26"/><text x="1066">925</text></g><g id="n949"><rect x="1080" width="23"/><text x="1090">949</text></g><g id="n972"><rect x="1104" width="24"/><text x="1115">972</text></g><g id="n994"><rect x="1129" width="27"/><text x="1143">994</text></g>
<rect x="1158" y="-10.75" width="98" height="15.5" fill="url(#gB)"/>
</g>
<g class="r" id="thread-16" transform="translate(0,380.18)">
<g id="n7"><rect x="49" width="42"/><text x="83">7</text></g><g id="n34"><rect x="92" width="39"/><text x="120">34</text></g><g id="n63"><rect x="132" width="34"/><text x="155">63</text></g><g id="n89"><rect x="167" width="28"/><text x="184">89</text></g><g id="n111"><rect x="196" width="24"/><text x="207">111</text></g><g id="n135"><rect x="221" width="24"/><text x="232">135</text></g><g id="n157"><rect x="246" width="25"/><text x="258">157</text></g><g id="n178"><rect x="272" width="24"/><text x="283">178</text></g><g id="n200"><rect x="297" width="24"/><text x="308">200</text></g><g id="n230"><rect x="322" width="26"/><text x="335">230</text></g><g id="n252"><rect x="349" width="25"/><text x="361">252</text></g><g id="n275"><rect x="375" width="26"/><text x="388">275</text></g><g id="n302"><rect x="402" width="22"/><text x="411">302</text></g><g id="n324"><rect x="425" width="26"/><text x="438">324</text></g><g id="n348"><rect x="452" width="23"/><text x="462">348</text></g><g id="n373"><rect x="476" width="27"/><text x="490">373</text></g><g id="n396"><rect x="504" width="25"/><text x="516">396</text></g><g id="n421"><rect x="530" width="23"/><text x="540">421</text></g><g id="n445"><rect x="554" width="24"/><text x="565">445</text></g><g id="n469"><rect x="579" width="26"/><text x="592">469</text></g><g id="n494"><rect x="606" width="24"/><text x="617">494</text></g><g id="n518"><rect x="631" width="23"/><text x="641">518</text></g><g id="n542"><rect x="655" width="28"/><text x="670">542</text></g><g id="n567"><rect x="684" width="26"/><text x="697">567</text></g><g id="n593"><rect x="711" width="24"/><text x="722">593</text></g><g id="n617"><rect x="736" width="25"/><text x="748">617</text></g><g id="n641"><rect x="762" width="24"/><text x="773">641</text></g><g id="n665"><rect x="787" width="22"/><text x="796">665</text></g><g id="n689"><rect x="810" width="23"/><text x="820">689</text></g><g id="n713"><rect x="834" width="22"/><text x="843">713</text></g><g id="n735"><rect x="857" width="24"/><text x="868">735</text></g><g id="n759"><rect x="882" width="28"/><text x="897">759</text></g><g id="n785"><rect x="911" width="25"/><text x="923">785</text></g><g id="n809"><rect x="937" width="24"/><text x="948">809</text></g><g id="n833"><rect x="962" width="23"/><text x="972">833</text></g><g id="n857"><rect x="986" width="26"/><text x="999">857</text></g><g id="n883"><rect x="1013" width="27"/><text x="1027">883</text></g><g id="n907"><rect x="1041" width="20"/><text x="1048">907</text></g><g id="n931"><rect x="1062" width="24"/><text x="1073">931</text></g><g id="n956"><rect x="1087" width="24"/><text x="1098">956</text></g><g id="n980"><rect x="1112" width="24"/><text x="1123">980</text></g>
<rect x="1138" y="-10.75" width="118" height="15.5" fill="url(#gF)"/>
</g>
<g class="r" id="thread-17" transform="translate(0,401.91)">
<g id="n16"><rect x="49" width="45"/><text x="83">16</text></g><g id="n41"><rect x="95" width="38"/><text x="122">41</text></g><g id="n66"><rect x="134" width="36"/><text x="159">66</text></g><g id="n94"><rect x="171" width="28"/><text x="188">94</text></g><g id="n118"><rect x="200" width="25"/><text x="212">118</text></g><g id="n142"><rect x="226" width="21"/><text x="234">142</text></g><g id="n164"><rect x="248" width="25"/><text x="260">164</text></g><g id="n187"><rect x="274" width="25"/><text x="286">187</text></g><g id="n210"><rect x="300" width="23"/><text x="310">210</text></g><g id="n232"><rect x="324" width="25"/><text x="336">232</text></g><g id="n251"><rect x="350" width="25"/><text x="362">251</text></g><g id="n278"><rect x="376" width="23"/><text x="386">278</text></g><g id="n299"><rect x="400" width="23"/><text x="410">299</text></g><g id="n323"><rect x="424" width="26"/><text x="437">323</text></g><g id="n347"><rect x="451" width="23"/><text x="461">347</text></g><g id="n372"><rect x="475" width="28"/><text x="490">372</text></g><g id="n397"><rect x="504" width="24"/><text x="515">397</text></g><g id="n420"><rect x="529" width="24"/><text x="540">420</text></g><g id="n444"><rect x="554" width="23"/><text x="564">444</text></g><g id="n468"><rect x="578" width="24"/><text x="589">468</text></g><g id="n492"><rect x="603" width="24"/><text x="614">492</text></g><g id="n515"><rect x="628" width="25"/><text x="640">515</text></g><g id="n539"><rect x="654" width="22"/><text x="663">539</text></g><g id="n562"><rect x="677" width="24"/><text x="688">562</text></g><g id="n587"><rect x="702" width="23"/><text x="712">587</text></g><g id="n611"><rect x="726" width="24"/><text x="737">611</text></g><g id="n636"><rect x="751" width="25"/><text x="763">636</text></g><g id="n660"><rect x="777" width="28"/><text x="792">660</text></g><g id="n686"><rect x="806" width="24"/><text x="817">686</text></g><g id="n710"><rect x="831" width="23"/><text x="841">710</text></g><g id="n734"><rect x="855" width="24"/><text x="866">734</text></g><g id="n758"><rect x="880" width="23"/><text x="890">758</text></g><g id="n781"><rect x="904" width="22"/><text x="913">781</text></g><g id="n802"><rect x="927" width="23"/><text x="937">802</text></g><g id="n824"><rect x="951" width="24"/><text x="962">824</text></g><g id="n847"><rect x="976" width="24"/><text x="987">847</text></g><g id="n873"><rect x="1001" width="25"/><text x="1013">873</text></g><g id="n898"><rect x="1027" width="25"/><text x="1039">898</text></g><g id="n923"><rect x="1053" width="24"/><text x="1064">923</text></g><g id="n948"><rect x="1078" width="25"/><text x="1090">948</text></g><g id="n970"><rect x="1104" width="24"/><text x="1115">970</text></g><g id="n995"><rect x="1129" width="23"/><text x="1139">995</text></g>
<rect x="1154" y="-10.75" width="102" height="15.5" fill="url(#gD)"/>
</g>
<g class="r" id="thread-18" transform="translate(0,423.64)">
<g id="n11"><rect x="49" width="43"/><text x="81">11</text></g><g id="n26"><rect x="93" width="37"/><text x="119">26</text></g><g id="n57"><rect x="131" width="32"/><text x="152">57</text></g><g id="n82"><rect x="164" width="27"/><text x="180">82</text></g><g id="n102"><rect x="192" width="27"/><text x="206">102</text></g><g id="n128"><rect x="220" width="25"/><text x="232">128</text></g><g id="n154"><rect x="246" width="24"/><text x="257">154</text></g><g id="n186"><rect x="271" width="28"/><text x="286">186</text></g><g id="n209"><rect x="300" width="24"/><text x="311">209</text></g><g id="n231"><rect x="325" width="25"/><text x="337">231</text></g><g id="n255"><rect x="351" width="25"/><text x="363">255</text></g><g id="n280"><rect x="377" width="29"/><text x="393">280</text></g><g id="n306"><rect x="407" width="24"/><text x="418">306</text></g><g id="n327"><rect x="432" width="23"/><text x="442">327</text></g><g id="n350"><rect x="456" width="24"/><text x="467">350</text></g><g id="n374"><rect x="481" width="25"/><text x="493">374</text></g><g id="n399"><rect x="507" width="25"/><text x="519">399</text></g><g id="n423"><rect x="533" width="23"/><text x="543">423</text></g><g id="n448"><rect x="557" width="27"/><text x="571">448</text></g><g id="n472"><rect x="585" width="25"/><text x="597">472</text></g><g id="n499"><rect x="611" width="25"/><text x="623">499</text></g><g id="n524"><rect x="637" width="24"/><text x="648">524</text></g><g id="n546"><rect x="662" width="24"/><text x="673">546</text></g><g id="n570"><rect x="687" width="25"/><text x="699">570</text></g><g id="n595"><rect x="713" width="26"/><text x="726">595</text></g><g id="n619"><rect x="740" width="25"/><text x="752">619</text></g><g id="n642"><rect x="766" width="24"/><text x="777">642</text></g><g id="n668"><rect x="791" width="24"/><text x="802">668</text></g><g id="n692"><rect x="816" width="25"/><text x="828">692</text></g><g id="n719"><rect x="842" width="26"/><text x="855">719</text></g><g id="n747"><rect x="869" width="26"/><text x="882">747</text></g><g id="n772"><rect x="896" width="23"/><text x="906">772</text></g><g id="n791"><rect x="920" width="24"/><text x="931">791</text></g><g id="n820"><rect x="945" width="24"/><text x="956">820</text></g><g id="n844"><rect x="970" width="28"/><text x="985">844</text></g><g id="n869"><rect x="999" width="26"/><text x="1012">869</text></g><g id="n896"><rect x="1026" width="24"/><text x="1037">896</text></g><g id="n921"><rect x="1051" width="25"/><text x="1063">921</text></g><g id="n943"><rect x="1077" width="26"/><text x="1090">943</text></g><g id="n971"><rect x="1104" width="26"/><text x="1117">971</text></g><g id="n993"><rect x="1131" width="24"/><text x="1142">993</text></g>
<rect x="1157" y="-10.75" width="99" height="15.5" fill="url(#gA)"/>
</g>
<g class="r" id="thread-19" transform="translate(0,445.37)">
<g id="n17"><rect x="49" width="45"/><text x="83">17</text></g><g id="n39"><rect x="95" width="38"/><text x="122">39</text></g><g id="n67"><rect x="134" width="33"/><text x="156">67</text></g><g id="n90"><rect x="168" width="28"/><text x="185">90</text></g><g id="n112"><rect x="197" width="24"/><text x="208">112</text></g><g id="n140"><rect x="222" width="24"/><text x="233">140</text></g><g id="n161"><rect x="247" width="25"/><text x="259">161</text></g><g id="n182"><rect x="273" width="27"/><text x="287">182</text></g><g id="n211"><rect x="301" width="22"/><text x="310">211</text></g><g id="n236"><rect x="324" width="27"/><text x="338">236</text></g><g id="n258"><rect x="352" width="24"/><text x="363">258</text></g><g id="n279"><rect x="377" width="23"/><text x="387">279</text></g><g id="n301"><rect x="401" width="27"/><text x="415">301</text></g><g id="n325"><rect x="429" width="22"/><text x="438">325</text></g><g id="n349"><rect x="452" width="23"/><text x="462">349</text></g><g id="n371"><rect x="476" width="22"/><text x="485">371</text></g><g id="n394"><rect x="499" width="25"/><text x="511">394</text></g><g id="n418"><rect x="525" width="21"/><text x="533">418</text></g><g id="n442"><rect x="547" width="24"/><text x="558">442</text></g><g id="n464"><rect x="572" width="23"/><text x="582">464</text></g><g id="n486"><rect x="596" width="26"/><text x="609">486</text></g><g id="n512"><rect x="623" width="24"/><text x="634">512</text></g><g id="n536"><rect x="648" width="26"/><text x="661">536</text></g><g id="n559"><rect x="675" width="21"/><text x="683">559</text></g><g id="n583"><rect x="697" width="25"/><text x="709">583</text></g><g id="n607"><rect x="723" width="23"/><text x="733">607</text></g><g id="n631"><rect x="747" width="23"/><text x="757">631</text></g><g id="n653"><rect x="771" width="24"/><text x="782">653</text></g><g id="n675"><rect x="796" width="24"/><text x="807">675</text></g><g id="n698"><rect x="821" width="21"/><text x="829">698</text></g><g id="n720"><rect x="843" width="25"/><text x="855">720</text></g><g id="n743"><rect x="869" width="25"/><text x="881">743</text></g><g id="n768"><rect x="895" width="24"/><text x="906">768</text></g><g id="n796"><rect x="920" width="25"/><text x="932">796</text></g><g id="n818"><rect x="946" width="26"/><text x="959">818</text></g><g id="n845"><rect x="973" width="23"/><text x="983">845</text></g><g id="n866"><rect x="997" width="21"/><text x="1005">866</text></g><g id="n889"><rect x="1019" width="26"/><text x="1032">889</text></g><g id="n913"><rect x="1046" width="23"/><text x="1056">913</text></g><g id="n936"><rect x="1070" width="22"/><text x="1079">936</text></g><g id="n960"><rect x="1093" width="20"/><text x="1100">960</text></g><g id="n982"><rect x="1114" width="24"/><text x="1125">982</text></g>
<rect x="1140" y="-10.75" width="116" height="15.5" fill="url(#gC)"/>
</g>
<g class="r" id="thread-20" transform="translate(0,467.1)">
<g id="n22"><rect x="49" width="44"/><text x="82">22</text></g><g id="n35"><rect x="94" width="36"/><text x="119">35</text></g><g id="n59"><rect x="131" width="35"/><text x="155">59</text></g><g id="n86"><rect x="167" width="28"/><text x="184">86</text></g><g id="n110"><rect x="196" width="23"/><text x="206">110</text></g><g id="n133"><rect x="220" width="24"/><text x="231">133</text></g><g id="n153"><rect x="245" width="26"/><text x="258">153</text></g><g id="n179"><rect x="272" width="25"/><text x="284">179</text></g><g id="n199"><rect x="298" width="23"/><text x="308">199</text></g><g id="n225"><rect x="322" width="23"/><text x="332">225</text></g><g id="n246"><rect x="346" width="27"/><text x="360">246</text></g><g id="n273"><rect x="374" width="27"/><text x="388">273</text></g><g id="n303"><rect x="402" width="29"/><text x="418">303</text></g><g id="n331"><rect x="432" width="24"/><text x="443">331</text></g><g id="n358"><rect x="457" width="28"/><text x="472">358</text></g><g id="n381"><rect x="486" width="23"/><text x="496">381</text></g><g id="n403"><rect x="510" width="23"/><text x="520">403</text></g><g id="n427"><rect x="534" width="24"/><text x="545">427</text></g><g id="n449"><rect x="559" width="26"/><text x="572">449</text></g><g id="n475"><rect x="586" width="23"/><text x="596">475</text></g><g id="n496"><rect x="610" width="25"/><text x="622">496</text></g><g id="n520"><rect x="636" width="25"/><text x="648">520</text></g><g id="n547"><rect x="662" width="26"/><text x="675">547</text></g><g id="n571"><rect x="689" width="24"/><text x="700">571</text></g><g id="n596"><rect x="714" width="26"/><text x="727">596</text></g><g id="n620"><rect x="741" width="23"/><text x="751">620</text></g><g id="n644"><rect x="765" width="23"/><text x="775">644</text></g><g id="n666"><rect x="789" width="26"/><text x="802">666</text></g><g id="n694"><rect x="816" width="24"/><text x="827">694</text></g><g id="n717"><rect x="841" width="25"/><text x="853">717</text></g><g id="n741"><rect x="867" width="24"/><text x="878">741</text></g><g id="n765"><rect x="892" width="26"/><text x="905">765</text></g><g id="n790"><rect x="919" width="24"/><text x="930">790</text></g><g id="n815"><rect x="944" width="24"/><text x="955">815</text></g><g id="n840"><rect x="969" width="23"/><text x="979">840</text></g><g id="n863"><rect x="993" width="23"/><text x="1003">863</text></g><g id="n887"><rect x="1017" width="25"/><text x="1029">887</text></g><g id="n912"><rect x="1043" width="28"/><text x="1058">912</text></g><g id="n937"><rect x="1072" width="28"/><text x="1087">937</text></g><g id="n965"><rect x="1101" width="24"/><text x="1112">965</text></g><g id="n990"><rect x="1126" width="26"/><text x="1139">990</text></g>
<rect x="1154" y="-10.75" width="102" height="15.5" fill="url(#gB)"/>
</g>
<g class="r" id="thread-21" transform="translate(0,488.83)">
<g id="n21"><rect x="49" width="44"/><text x="82">21</text></g><g id="n31"><rect x="94" width="37"/><text x="120">31</text></g><g id="n51"><rect x="132" width="31"/><text x="152">51</text></g><g id="n78"><rect x="164" width="25"/><text x="178">78</text></g><g id="n101"><rect x="190" width="26"/><text x="203">101</text></g><g id="n127"><rect x="217" width="23"/><text x="227">127</text></g><g id="n151"><rect x="241" width="28"/><text x="256">151</text></g><g id="n175"><rect x="270" width="28"/><text x="285">175</text></g><g id="n208"><rect x="299" width="26"/><text x="312">208</text></g><g id="n234"><rect x="326" width="25"/><text x="338">234</text></g><g id="n261"><rect x="352" width="28"/><text x="367">261</text></g><g id="n286"><rect x="381" width="22"/><text x="390">286</text></g><g id="n310"><rect x="404" width="28"/><text x="419">310</text></g><g id="n329"><rect x="433" width="27"/><text x="447">329</text></g><g id="n357"><rect x="461" width="25"/><text x="473">357</text></g><g id="n384"><rect x="487" width="27"/><text x="501">384</text></g><g id="n408"><rect x="515" width="18"/><text x="520">408</text></g><g id="n436"><rect x="534" width="31"/><text x="552">436</text></g><g id="n459"><rect x="566" width="25"/><text x="578">459</text></g><g id="n483"><rect x="592" width="26"/><text x="605">483</text></g><g id="n508"><rect x="619" width="25"/><text x="631">508</text></g><g id="n532"><rect x="645" width="23"/><text x="655">532</text></g><g id="n556"><rect x="669" width="22"/><text x="678">556</text></g><g id="n579"><rect x="692" width="25"/><text x="704">579</text></g><g id="n603"><rect x="718" width="24"/><text x="729">603</text></g><g id="n627"><rect x="743" width="25"/><text x="755">627</text></g><g id="n652"><rect x="769" width="26"/><text x="782">652</text></g><g id="n676"><rect x="796" width="25"/><text x="808">676</text></g><g id="n701"><rect x="822" width="24"/><text x="833">701</text></g><g id="n726"><rect x="847" width="24"/><text x="858">726</text></g><g id="n750"><rect x="872" width="24"/><text x="883">750</text></g><g id="n774"><rect x="897" width="28"/><text x="912">774</text></g><g id="n798"><rect x="926" width="22"/><text x="935">798</text></g><g id="n822"><rect x="949" width="25"/><text x="961">822</text></g><g id="n846"><rect x="975" width="24"/><text x="986">846</text></g><g id="n870"><rect x="1000" width="23"/><text x="1010">870</text></g><g id="n891"><rect x="1024" width="25"/><text x="1036">891</text></g><g id="n918"><rect x="1050" width="26"/><text x="1063">918</text></g><g id="n942"><rect x="1077" width="26"/><text x="1090">942</text></g><g id="n968"><rect x="1104" width="24"/><text x="1115">968</text></g><g id="n992"><rect x="1129" width="25"/><text x="1141">992</text></g>
<rect x="1156" y="-10.75" width="100" height="15.5" fill="url(#gE)"/>
</g>
<g class="r" id="thread-22" transform="translate(0,510.56)">
<g id="n20"><rect x="49" width="44"/><text x="82">20</text></g><g id="n40"><rect x="94" width="36"/><text x="119">40</text></g><g id="n61"><rect x="131" width="35"/><text x="155">61</text></g><g id="n85"><rect x="167" width="24"/><text x="180">85</text></g><g id="n104"><rect x="192" width="24"/><text x="203">104</text></g><g id="n123"><rect x="217" width="23"/><text x="227">123</text></g><g id="n148"><rect x="241" width="25"/><text x="253">148</text></g><g id="n174"><rect x="267" width="25"/><text x="279">174</text></g><g id="n197"><rect x="293" width="27"/><text x="307">197</text></g><g id="n222"><rect x="321" width="24"/><text x="332">222</text></g><g id="n245"><rect x="346" width="25"/><text x="358">245</text></g><g id="n269"><rect x="372" width="17"/><text x="376">269</text></g><g id="n293"><rect x="390" width="27"/><text x="404">293</text></g><g id="n317"><rect x="418" width="24"/><text x="429">317</text></g><g id="n341"><rect x="443" width="25"/><text x="455">341</text></g><g id="n365"><rect x="469" width="22"/><text x="478">365</text></g><g id="n389"><rect x="492" width="23"/><text x="502">389</text></g><g id="n412"><rect x="516" width="22"/><text x="525">412</text></g><g id="n433"><rect x="539" width="24"/><text x="550">433</text></g><g id="n456"><rect x="564" width="25"/><text x="576">456</text></g><g id="n481"><rect x="590" width="21"/><text x="598">481</text></g><g id="n502"><rect x="612" width="23"/><text x="622">502</text></g><g id="n521"><rect x="636" width="23"/><text x="646">521</text></g><g id="n544"><rect x="660" width="24"/><text x="671">544</text></g><g id="n568"><rect x="685" width="23"/><text x="695">568</text></g><g id="n592"><rect x="709" width="26"/><text x="722">592</text></g><g id="n616"><rect x="736" width="23"/><text x="746">616</text></g><g id="n640"><rect x="760" width="23"/><text x="770">640</text></g><g id="n664"><rect x="784" width="22"/><text x="793">664</text></g><g id="n687"><rect x="807" width="26"/><text x="820">687</text></g><g id="n712"><rect x="834" width="23"/><text x="844">712</text></g><g id="n737"><rect x="858" width="24"/><text x="869">737</text></g><g id="n760"><rect x="883" width="22"/><text x="892">760</text></g><g id="n783"><rect x="906" width="20"/><text x="913">783</text></g><g id="n804"><rect x="927" width="24"/><text x="938">804</text></g><g id="n825"><rect x="952" width="24"/><text x="963">825</text></g><g id="n849"><rect x="977" width="22"/><text x="986">849</text></g><g id="n871"><rect x="1000" width="24"/><text x="1011">871</text></g><g id="n894"><rect x="1025" width="26"/><text x="1038">894</text></g><g id="n922"><rect x="1052" width="24"/><text x="1063">922</text></g><g id="n944"><rect x="1077" width="24"/><text x="1088">944</text></g><g id="n966"><rect x="1102" width="24"/><text x="1113">966</text></g><g id="n991"><rect x="1127" width="23"/><text x="1137">991</text></g>
<rect x="1152" y="-10.75" width="104" height="15.5" fill="url(#gD)"/>
</g>
<g class="r" id="thread-23" transform="translate(0,532.29)">
<g id="n19"><rect x="49" width="47"/><text x="85">19</text></g><g id="n45"><rect x="97" width="35"/><text x="121">45</text></g><g id="n65"><rect x="133" width="33"/><text x="155">65</text></g><g id="n87"><rect x="167" width="28"/><text x="184">87</text></g><g id="n109"><rect x="196" width="24"/><text x="207">109</text></g><g id="n130"><rect x="221" width="23"/><text x="231">130</text></g><g id="n155"><rect x="245" width="26"/><text x="258">155</text></g><g id="n177"><rect x="272" width="26"/><text x="285">177</text></g><g id="n203"><rect x="299" width="25"/><text x="311">203</text></g><g id="n223"><rect x="325" width="21"/><text x="333">223</text></g><g id="n248"><rect x="347" width="26"/><text x="360">248</text></g><g id="n271"><rect x="374" width="22"/><text x="383">271</text></g><g id="n296"><rect x="397" width="21"/><text x="405">296</text></g><g id="n318"><rect x="419" width="24"/><text x="430">318</text></g><g id="n342"><rect x="444" width="22"/><text x="453">342</text></g><g id="n364"><rect x="467" width="24"/><text x="478">364</text></g><g id="n388"><rect x="492" width="26"/><text x="505">388</text></g><g id="n413"><rect x="519" width="24"/><text x="530">413</text></g><g id="n438"><rect x="544" width="26"/><text x="557">438</text></g><g id="n462"><rect x="571" width="25"/><text x="583">462</text></g><g id="n487"><rect x="597" width="24"/><text x="608">487</text></g><g id="n510"><rect x="622" width="24"/><text x="633">510</text></g><g id="n534"><rect x="647" width="24"/><text x="658">534</text></g><g id="n557"><rect x="672" width="23"/><text x="682">557</text></g><g id="n581"><rect x="696" width="24"/><text x="707">581</text></g><g id="n605"><rect x="721" width="24"/><text x="732">605</text></g><g id="n629"><rect x="746" width="25"/><text x="758">629</text></g><g id="n654"><rect x="772" width="23"/><text x="782">654</text></g><g id="n677"><rect x="796" width="24"/><text x="807">677</text></g><g id="n702"><rect x="821" width="25"/><text x="833">702</text></g><g id="n725"><rect x="847" width="22"/><text x="856">725</text></g><g id="n749"><rect x="870" width="24"/><text x="881">749</text></g><g id="n771"><rect x="895" width="26"/><text x="908">771</text></g><g id="n797"><rect x="922" width="24"/><text x="933">797</text></g><g id="n819"><rect x="947" width="24"/><text x="958">819</text></g><g id="n843"><rect x="972" width="25"/><text x="984">843</text></g><g id="n867"><rect x="998" width="26"/><text x="1011">867</text></g><g id="n892"><rect x="1025" width="23"/><text x="1035">892</text></g><g id="n916"><rect x="1049" width="25"/><text x="1061">916</text></g><g id="n941"><rect x="1075" width="23"/><text x="1085">941</text></g><g id="n963"><rect x="1099" width="23"/><text x="1109">963</text></g><g id="n986"><rect x="1123" width="25"/><text x="1135">986</text></g>
<rect x="1150" y="-10.75" width="106" height="15.5" fill="url(#gF)"/>
</g>
<g id="row-labels" class="lbl">
<text x="38" y="32.5">0</text><text x="38" y="54.2">1</text><text x="38" y="76">2</text><text x="38" y="97.7">3</text><text x="38" y="119.4">4</text><text x="38" y="141.2">5</text><text x="38" y="162.9">6</text><text x="38" y="184.6">7</text><text x="38" y="206.3">8</text><text x="38" y="228.1">9</text><text x="38" y="249.8">10</text><text x="38" y="271.5">11</text><text x="38" y="293.3">12</text><text x="38" y="315">13</text><text x="38" y="336.7">14</text><text x="38" y="358.5">15</text><text x="38" y="380.2">16</text><text x="38" y="401.9">17</text><text x="38" y="423.6">18</text><text x="38" y="445.4">19</text><text x="38" y="467.1">20</text><text x="38" y="488.8">21</text><text x="38" y="510.6">22</text><text x="38" y="532.3">23</text>
</g>
</svg>
